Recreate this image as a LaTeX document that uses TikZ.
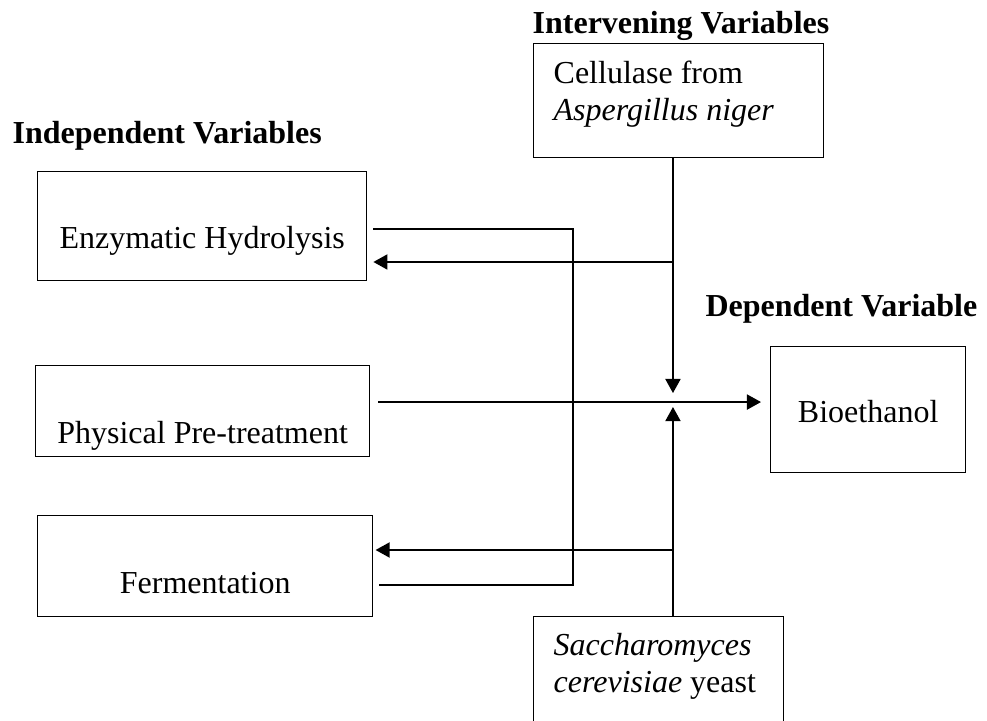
\documentclass[tikz,border=0pt]{standalone}
\usepackage{fontspec}
\setmainfont{Liberation Serif}
\usetikzlibrary{arrows.meta}

% normal word spaces inside the two-line boxes
\newcommand{\plainspacing}{\spaceskip=0pt\xspaceskip=0pt\relax}

\begin{document}
\begin{tikzpicture}[
    font=\fontsize{12}{13.9}\selectfont,
    line width=0.5pt,
    varbox/.style={draw, inner sep=0pt, anchor=north west},
    notebox/.style={varbox, align=left, inner xsep=0.264cm, inner ysep=0pt},
    heading/.style={font=\fontsize{12}{13.9}\selectfont\bfseries, inner sep=0pt, anchor=base west},
    link/.style={-{Triangle[length=1.85mm, width=2mm]}}
]
    % Fix the page size
    \useasboundingbox (0,0) rectangle (13.009,-9.490);

    % Headings
    \node[heading] (indep) at (0.158,-1.885) {Independent Variables};
    \node[heading] (interv) at (7.012,-0.435) {Intervening Variables};
    \node[heading, anchor=base east] (dep) at (12.890,-4.165) {Dependent Variable};

    % Independent variables
    \node[varbox, minimum width=4.336cm, text height=1.015cm, text depth=0.422cm] (enz) at (0.488,-2.254) {Enzymatic Hydrolysis};
    \node[varbox, minimum width=4.402cm, text height=1.028cm, text depth=0.171cm] (phys) at (0.461,-4.811) {Physical Pre-treatment};
    \node[varbox, minimum width=4.415cm, text height=1.028cm, text depth=0.303cm] (ferm) at (0.488,-6.788) {Fermentation};

    % Dependent variable
    \node[varbox, minimum width=2.570cm, text height=1.002cm, text depth=0.659cm] (bio) at (10.149,-4.560) {Bioethanol};

    % Intervening variables
    \node[notebox, text width=3.295cm, text height=0.527cm, text depth=0.975cm] (cell) at (7.025,-0.567) {\plainspacing Cellulase from\\ \textit{Aspergillus niger}};
    \node[notebox, text width=2.768cm, text height=0.514cm, text depth=1.318cm] (sacc) at (7.025,-8.119) {\plainspacing\textit{Saccharomyces}\\ \textit{cerevisiae} yeast};

    % Junction points of the connectors
    \coordinate (hub) at (8.870,-5.299);
    \coordinate (enzTap) at (8.870,-3.453);
    \coordinate (fermTap) at (8.870,-7.249);
    \coordinate (busTop) at (7.552,-3.018);
    \coordinate (busBot) at (7.552,-7.711);

    % Bracket joining hydrolysis and fermentation
    \draw[shorten <=0.08cm, shorten >=0.07cm] (enz.east |- busTop) -- (busTop) -- (busBot) -- (ferm.east |- busBot);

    % Pre-treatment into bioethanol
    \draw[link, shorten <=0.105cm, shorten >=0.119cm] (phys.east |- hub) -- (bio.west |- hub);

    % Cellulase acting on hydrolysis
    \draw[link, shorten >=0.119cm] (cell.south -| hub) -- (hub);
    \draw[link, shorten >=0.08cm] (enzTap) -- (enzTap -| enz.east);

    % Yeast acting on fermentation
    \draw[link, shorten >=0.066cm] (sacc.north -| hub) -- (hub);
    \draw[link, shorten >=0.03cm] (fermTap) -- (fermTap -| ferm.east);
\end{tikzpicture}
\end{document}
